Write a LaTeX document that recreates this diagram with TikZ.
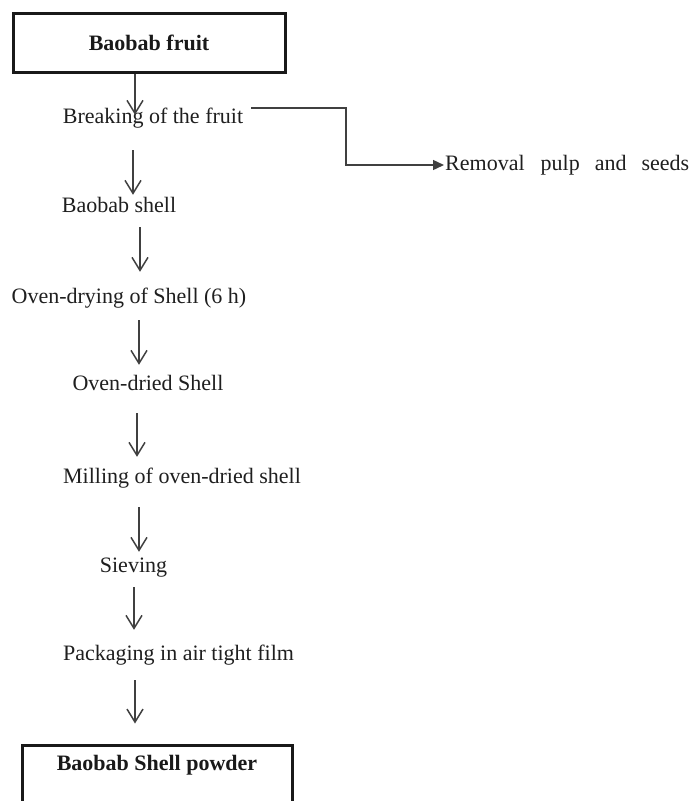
\documentclass[tikz,border=0pt]{standalone}
\usepackage{fontspec}
\setmainfont{Liberation Serif}
\usetikzlibrary{arrows.meta}
\begin{document}
\begin{tikzpicture}[x=1pt,y=-1pt,
  txt/.style={inner sep=0pt, text height=15pt, text depth=5pt, text=black!88,
    font=\fontsize{22}{26}\selectfont},
  endbox/.style={draw=black!90, line width=3pt, inner sep=0pt, text=black!90,
    font=\fontsize{22}{26}\selectfont\bfseries},
  flow/.style={draw=black!75, line width=1.5pt,
    -{Straight Barb[length=13pt,width=16pt,line width=1.5pt]}},
  side/.style={draw=black!75, line width=1.4pt,
    -{Triangle[length=11pt,width=10pt]}}]
\clip (0,0) rectangle (694,801);
\fill[white] (0,0) rectangle (694,801);
% nodes
\node[endbox, minimum width=272pt, minimum height=59pt] (fruit) at (149,42.5) {Baobab fruit};
\node[txt] (breaking) at (153,118) {Breaking of the fruit};
\node[txt, anchor=west] (removal) at (445,165) {Removal\hspace{16pt}pulp\hspace{15pt}and\hspace{15pt}seeds};
\node[txt] (shell) at (119,207) {Baobab shell};
\node[txt] (dry) at (129,298) {Oven-drying of Shell (6 h)};
\node[txt] (dried) at (148,385) {Oven-dried Shell};
\node[txt] (mill) at (182,478) {Milling of oven-dried shell};
\node[txt] (sieve) at (133.5,567) {Sieving};
\node[txt] (pack) at (178.5,655) {Packaging in air tight film};
\node[endbox, minimum width=270pt, minimum height=60pt, text depth=0pt] (powder) at (157,775) {\raisebox{25pt}{Baobab Shell powder}};
% column coordinates
\coordinate (c1) at (135,0);
\coordinate (c2) at (133,0);
\coordinate (c3) at (140,0);
\coordinate (c4) at (139,0);
\coordinate (c5) at (137,0);
\coordinate (c6) at (139,0);
\coordinate (c7) at (134,0);
\coordinate (c8) at (135,0);
\coordinate (bend) at (346,0);
% connectors
\draw[flow, shorten >=-7pt] (fruit.south -| c1) -- (breaking.north -| c1);
\draw[flow, shorten <=22pt, shorten >=2pt] (breaking.south -| c2) -- (shell.north -| c2);
\draw[flow, shorten <=10pt, shorten >=16pt] (shell.south -| c3) -- (dry.north -| c3);
\draw[flow, shorten <=12pt, shorten >=10pt] (dry.south -| c4) -- (dried.north -| c4);
\draw[flow, shorten <=18pt, shorten >=11pt] (dried.south -| c5) -- (mill.north -| c5);
\draw[flow, shorten <=19pt, shorten >=5pt] (mill.south -| c6) -- (sieve.north -| c6);
\draw[flow, shorten <=10pt, shorten >=15pt] (sieve.south -| c7) -- (pack.north -| c7);
\draw[flow, shorten <=15pt, shorten >=20pt] (pack.south -| c8) -- (powder.north -| c8);
\draw[side] ([shift={(8,-10)}]breaking.east) -| (bend |- removal.west) -- ([xshift=-1pt]removal.west);
\end{tikzpicture}
\end{document}
